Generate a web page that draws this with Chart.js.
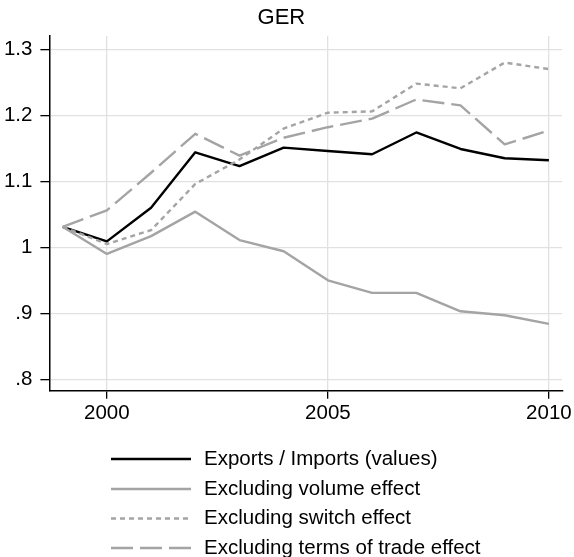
<!DOCTYPE html>
<html>
<head>
<meta charset="utf-8">
<script src="https://cdn.jsdelivr.net/npm/chart.js@4/dist/chart.umd.min.js"></script>
<style>
  html, body { margin: 0; padding: 0; background: #ffffff; }
  #wrap { width: 574px; height: 557px; }
</style>
</head>
<body>
<div id="wrap"><canvas id="c" width="574" height="557"></canvas></div>
<script>
// Ratio of exports to imports for Germany, with decomposition variants
const years = [1999, 2000, 2001, 2002, 2003, 2004, 2005, 2006, 2007, 2008, 2009, 2010];
const exportsImports = [1.031, 1.009, 1.060, 1.144, 1.123, 1.151, 1.146, 1.141, 1.174, 1.149, 1.135, 1.132];
const exVolume      = [1.031, 0.990, 1.017, 1.054, 1.011, 0.994, 0.950, 0.931, 0.931, 0.903, 0.897, 0.884];
const exSwitch      = [1.031, 1.005, 1.026, 1.096, 1.133, 1.180, 1.204, 1.206, 1.248, 1.241, 1.280, 1.270];
const exTermsTrade  = [1.031, 1.056, 1.113, 1.172, 1.139, 1.166, 1.182, 1.195, 1.224, 1.215, 1.156, 1.177];

const seriesNames = [
  'Exports / Imports (values)',
  'Excluding volume effect',
  'Excluding switch effect',
  'Excluding terms of trade effect'
];

const xTickValues = [2000, 2005, 2010];
const yTickValues = [0.8, 0.9, 1.0, 1.1, 1.2, 1.3];
const yTickLabels = ['.8', '.9', '1', '1.1', '1.2', '1.3'];

const FONT = '"Liberation Sans", Arial, Helvetica, sans-serif';
const GRAY = '#a4a4a4';

function toPoints(vals) {
  return years.map((y, i) => ({ x: y, y: vals[i] }));
}

// Legend stacked below the plot: a short line sample followed by the label
const stackedLegend = {
  id: 'stackedLegend',
  afterDraw(chart) {
    const ctx = chart.ctx;
    const rows = [459, 489, 518.5, 548];
    ctx.save();
    chart.data.datasets.forEach((ds, i) => {
      const y = rows[i];
      ctx.beginPath();
      ctx.strokeStyle = ds.borderColor;
      ctx.lineWidth = ds.borderWidth;
      ctx.setLineDash(ds.borderDash || []);
      ctx.moveTo(111, y);
      ctx.lineTo(191, y);
      ctx.stroke();
      ctx.setLineDash([]);
      ctx.fillStyle = '#000000';
      ctx.font = '20.5px ' + FONT;
      ctx.textBaseline = 'middle';
      ctx.textAlign = 'left';
      ctx.fillText(ds.label, 204, y);
    });
    ctx.restore();
  }
};

new Chart(document.getElementById('c'), {
  type: 'line',
  data: {
    datasets: [
      { label: seriesNames[0], data: toPoints(exportsImports), borderColor: '#000000', borderWidth: 2.4, order: 4 },
      { label: seriesNames[1], data: toPoints(exVolume), borderColor: GRAY, borderWidth: 2.4, order: 3 },
      { label: seriesNames[2], data: toPoints(exSwitch), borderColor: GRAY, borderWidth: 2.4, borderDash: [5, 4], order: 2 },
      { label: seriesNames[3], data: toPoints(exTermsTrade), borderColor: GRAY, borderWidth: 2.4, borderDash: [22, 7], order: 1 }
    ]
  },
  options: {
    responsive: false,
    animation: false,
    devicePixelRatio: 1,
    layout: { padding: { left: 0, right: 11.3, top: 0, bottom: 126.3 } },
    elements: {
      point: { radius: 0, hoverRadius: 0 },
      line: { tension: 0, fill: false, borderJoinStyle: 'round', borderCapStyle: 'butt' }
    },
    plugins: {
      legend: { display: false },
      tooltip: { enabled: false },
      title: {
        display: true,
        text: 'GER',
        color: '#000000',
        font: { family: FONT, size: 22, weight: 'normal', lineHeight: 1.2 },
        padding: { top: 5, bottom: 4.6 }
      }
    },
    scales: {
      x: {
        type: 'linear',
        min: 1998.7,
        max: 2010.3,
        afterBuildTicks: (s) => { s.ticks = xTickValues.map(v => ({ value: v })); },
        afterFit: (s) => { s.height = 40; },
        ticks: {
          color: '#000000',
          font: { family: FONT, size: 20.5 },
          padding: 2,
          maxRotation: 0,
          callback: (v) => String(v)
        },
        grid: { color: '#e1e1e1', lineWidth: 1.3, tickColor: '#000000', tickLength: 8, tickWidth: 1.3 },
        border: { display: true, color: '#000000', width: 1.5 }
      },
      y: {
        type: 'linear',
        min: 0.7827,
        max: 1.3202,
        afterBuildTicks: (s) => { s.ticks = yTickValues.map(v => ({ value: v })); },
        afterFit: (s) => { s.width = 49.4; },
        ticks: {
          color: '#000000',
          font: { family: FONT, size: 20.5 },
          padding: 8,
          callback: (v) => {
            const k = yTickValues.findIndex(t => Math.abs(t - v) < 1e-6);
            return k >= 0 ? yTickLabels[k] : '';
          }
        },
        grid: { color: '#e1e1e1', lineWidth: 1.3, tickColor: '#000000', tickLength: 9, tickWidth: 1.3 },
        border: { display: true, color: '#000000', width: 1.5 }
      }
    }
  },
  plugins: [stackedLegend]
});
</script>
</body>
</html>
